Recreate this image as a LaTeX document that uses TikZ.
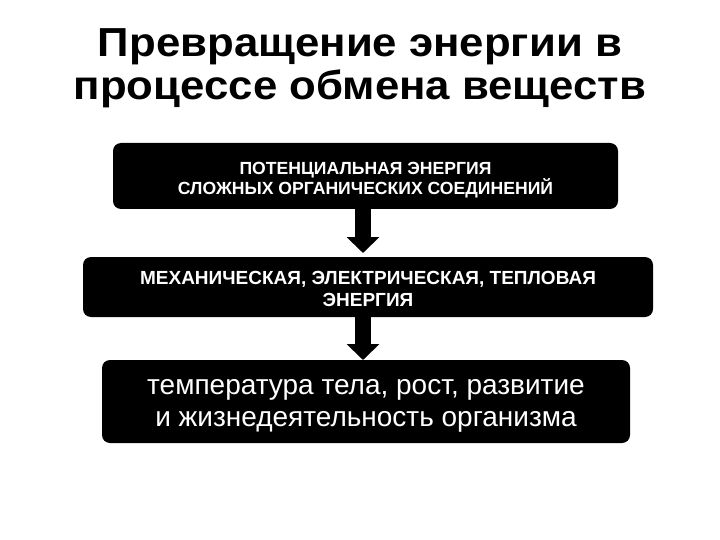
\documentclass[tikz,border=0pt]{standalone}
\usepackage{fontspec}
\setmainfont{Liberation Sans}
\newfontfamily\titlefont[FakeStretch=1.08]{Liberation Sans}
\usetikzlibrary{arrows.meta}
\tikzset{
  box/.style={fill=black, rounded corners=8pt, inner sep=0pt, outer sep=0pt},
  boxtext/.style={text=white, inner sep=0pt, outer sep=0pt, align=center},
  flow/.style={line width=16pt, -{Triangle[width=32pt,length=16pt]}, draw=black},
  titletext/.style={font=\titlefont\fontsize{40.5}{43}\selectfont\bfseries, align=center, inner sep=0pt}
}
\begin{document}
\begin{tikzpicture}[x=1pt,y=-1pt]
\useasboundingbox[fill=white] (0,0) rectangle (720,540);
\node[titletext, anchor=base] (title) at (360,100) {Превращение энергии в\\процессе обмена веществ};
\node[box, minimum width=505pt, minimum height=66pt] (b1) at (365.5,176) {};
\node[boxtext, font=\fontsize{17.6}{19.5}\selectfont\bfseries, yshift=-4pt] (b1t) at (b1) {ПОТЕНЦИАЛЬНАЯ ЭНЕРГИЯ\\СЛОЖНЫХ ОРГАНИЧЕСКИХ СОЕДИНЕНИЙ};
\node[box, minimum width=570pt, minimum height=60pt] (b2) at (368,287) {};
\node[boxtext, font=\fontsize{19}{21.5}\selectfont\bfseries, yshift=-2pt] (b2t) at (b2) {МЕХАНИЧЕСКАЯ, ЭЛЕКТРИЧЕСКАЯ, ТЕПЛОВАЯ\\ЭНЕРГИЯ};
\node[box, minimum width=528pt, minimum height=83pt] (b3) at (366,401.5) {};
\node[boxtext, font=\fontsize{28}{32}\selectfont, yshift=-4pt] (b3t) at (b3) {температура тела, рост, развитие\\и жизнедеятельность организма};
\coordinate (ax) at (363,0);
\draw[flow, shorten >=4pt] (b1.south -| ax) -- (b2.north -| ax);
\draw[flow] (b2.south -| ax) -- (b3.north -| ax);
\end{tikzpicture}
\end{document}
